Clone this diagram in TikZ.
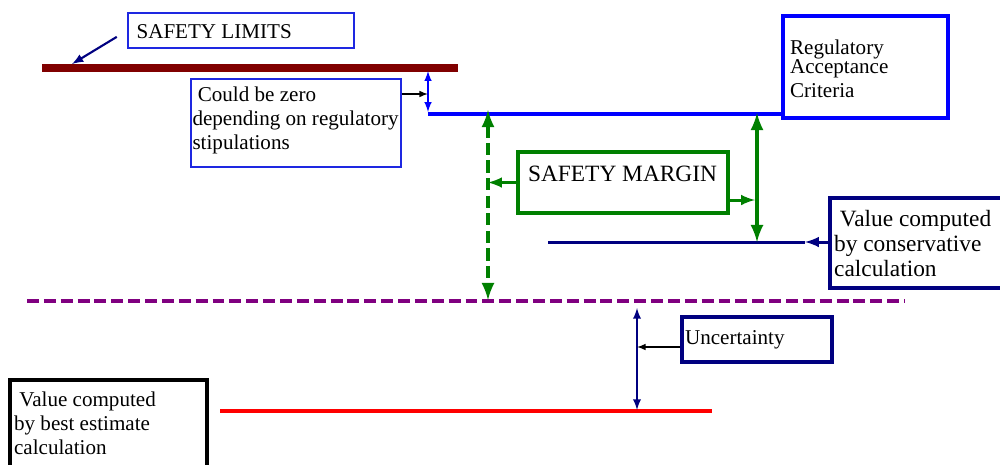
\documentclass[tikz,border=0pt]{standalone}
\usepackage{fontspec}
\setmainfont{Liberation Serif}
\usetikzlibrary{arrows,fit,positioning}
\definecolor{limred}{RGB}{128,0,0}
\definecolor{boxblue}{RGB}{30,40,225}
\definecolor{regblue}{RGB}{0,0,255}
\definecolor{navyblue}{RGB}{0,0,128}
\definecolor{mgreen}{RGB}{0,128,0}
\definecolor{purp}{RGB}{128,0,128}

\begin{document}
\begin{tikzpicture}[x=0.02cm,y=-0.02cm,>=latex,
  box/.style={draw,inner sep=0pt},
  thinbox/.style={box,line width=0.85pt},
  heavybox/.style={box,line width=2.5pt},
  txt/.style={anchor=north west,inner sep=0pt,align=left,font=\fontsize{12}{13.5}\selectfont},
  bigtxt/.style={txt,font=\fontsize{13.3}{14.2}\selectfont},
  level/.style={line width=2.3pt}]
      \useasboundingbox (0,0) rectangle (1000,464);

      % boxes
      \node[thinbox,draw=boxblue,fit={(128,13) (354,48)},
        label={[txt,xshift=5.1pt,yshift=-6.6pt]north west:SAFETY LIMITS}] (limbox) {};
      \node[thinbox,draw=boxblue,fit={(191,79) (401,167)},
        label={[txt,xshift=1.1pt,yshift=-4.9pt]north west:{~Could be zero\\depending on regulatory\\stipulations}}] (zerobox) {};
      \node[heavybox,draw=regblue,fit={(783,16) (948,118)},
        label={[txt,font=\fontsize{12}{14.2}\selectfont,xshift=5.1pt,yshift=-14.6pt]north west:{Regulatory\\[-3.2pt]Acceptance\\[-0.6pt]Criteria}}] (regbox) {};
      \node[heavybox,draw=mgreen,fit={(518,152) (728,213)},
        label={[bigtxt,xshift=6.8pt,yshift=-9.1pt]north west:SAFETY MARGIN}] (marginbox) {};
      \node[heavybox,draw=navyblue,fit={(830,198) (1012,288)},
        label={[bigtxt,xshift=3.4pt,yshift=-7.9pt]north west:{~Value computed\\by conservative\\calculation}}] (consbox) {};
      \node[heavybox,draw=navyblue,fit={(682,317) (832,362)},
        label={[txt,xshift=2.8pt,yshift=-8.5pt]north west:Uncertainty}] (uncbox) {};
      \node[heavybox,draw=black,fit={(10,380) (207,472)},
        label={[txt,font=\fontsize{12}{13.6}\selectfont,xshift=3.4pt,yshift=-7.7pt]north west:{~Value computed\\by best estimate\\calculation}}] (bestbox) {};

      % levels
      \coordinate (lim0) at (42,68);
      \coordinate (lim1) at (458,68);
      \coordinate (reg0) at (428,114);
      \coordinate (cons0) at (548,242);
      \coordinate (cons1) at (805,242);
      \coordinate (bnd0) at (27,301);
      \coordinate (bnd1) at (905,301);
      \coordinate (best0) at (220,411);
      \coordinate (best1) at (712,411);
      \draw[line width=4pt,limred] (lim0) -- (lim1);
      \draw[level,regblue] (reg0) -- (reg0 -| regbox.west);
      \draw[line width=1.7pt,navyblue] (cons0) -- (cons1);
      \draw[level,purp,dash pattern=on 6.8pt off 2.8pt] (bnd0) -- (bnd1);
      \draw[level,red] (best0) -- (best1);

      % arrows
      \coordinate (limtip) at (72,64);
      \coordinate (gap0) at (428,71);
      \coordinate (gap1) at (428,112);
      \coordinate (za) at (428,94);
      \coordinate (dtop) at (488,110);
      \coordinate (dbot) at (488,300);
      \coordinate (stop) at (757,113);
      \coordinate (sbot) at (757,242);
      \coordinate (mr) at (755,200);
      \coordinate (u0) at (637,308);
      \coordinate (u1) at (637,410);
      \coordinate (ua) at (637,347);
      \draw[->,navyblue,line width=1.2pt,shorten <=7pt] (limbox.west) -- (limtip);
      \draw[<->,regblue,line width=0.95pt] (gap0) -- (gap1);
      \draw[->,line width=0.7pt] (zerobox.east |- za) -- (za);
      \draw[<->,mgreen,level,dash pattern=on 7pt off 3pt] (dtop) -- (dbot);
      \draw[<->,mgreen,level] (stop) -- (sbot);
      \draw[->,mgreen,line width=1.7pt] (marginbox.west) -- (dtop |- marginbox.west);
      \draw[->,mgreen,line width=1.7pt] (marginbox.east |- mr) -- (mr);
      \draw[->,navyblue,line width=1.7pt] (consbox.west |- cons1) -- (cons1);
      \draw[<->,navyblue,line width=1.1pt] (u0) -- (u1);
      \draw[->,line width=0.7pt] (uncbox.west |- ua) -- (ua);
     \end{tikzpicture}
\end{document}
